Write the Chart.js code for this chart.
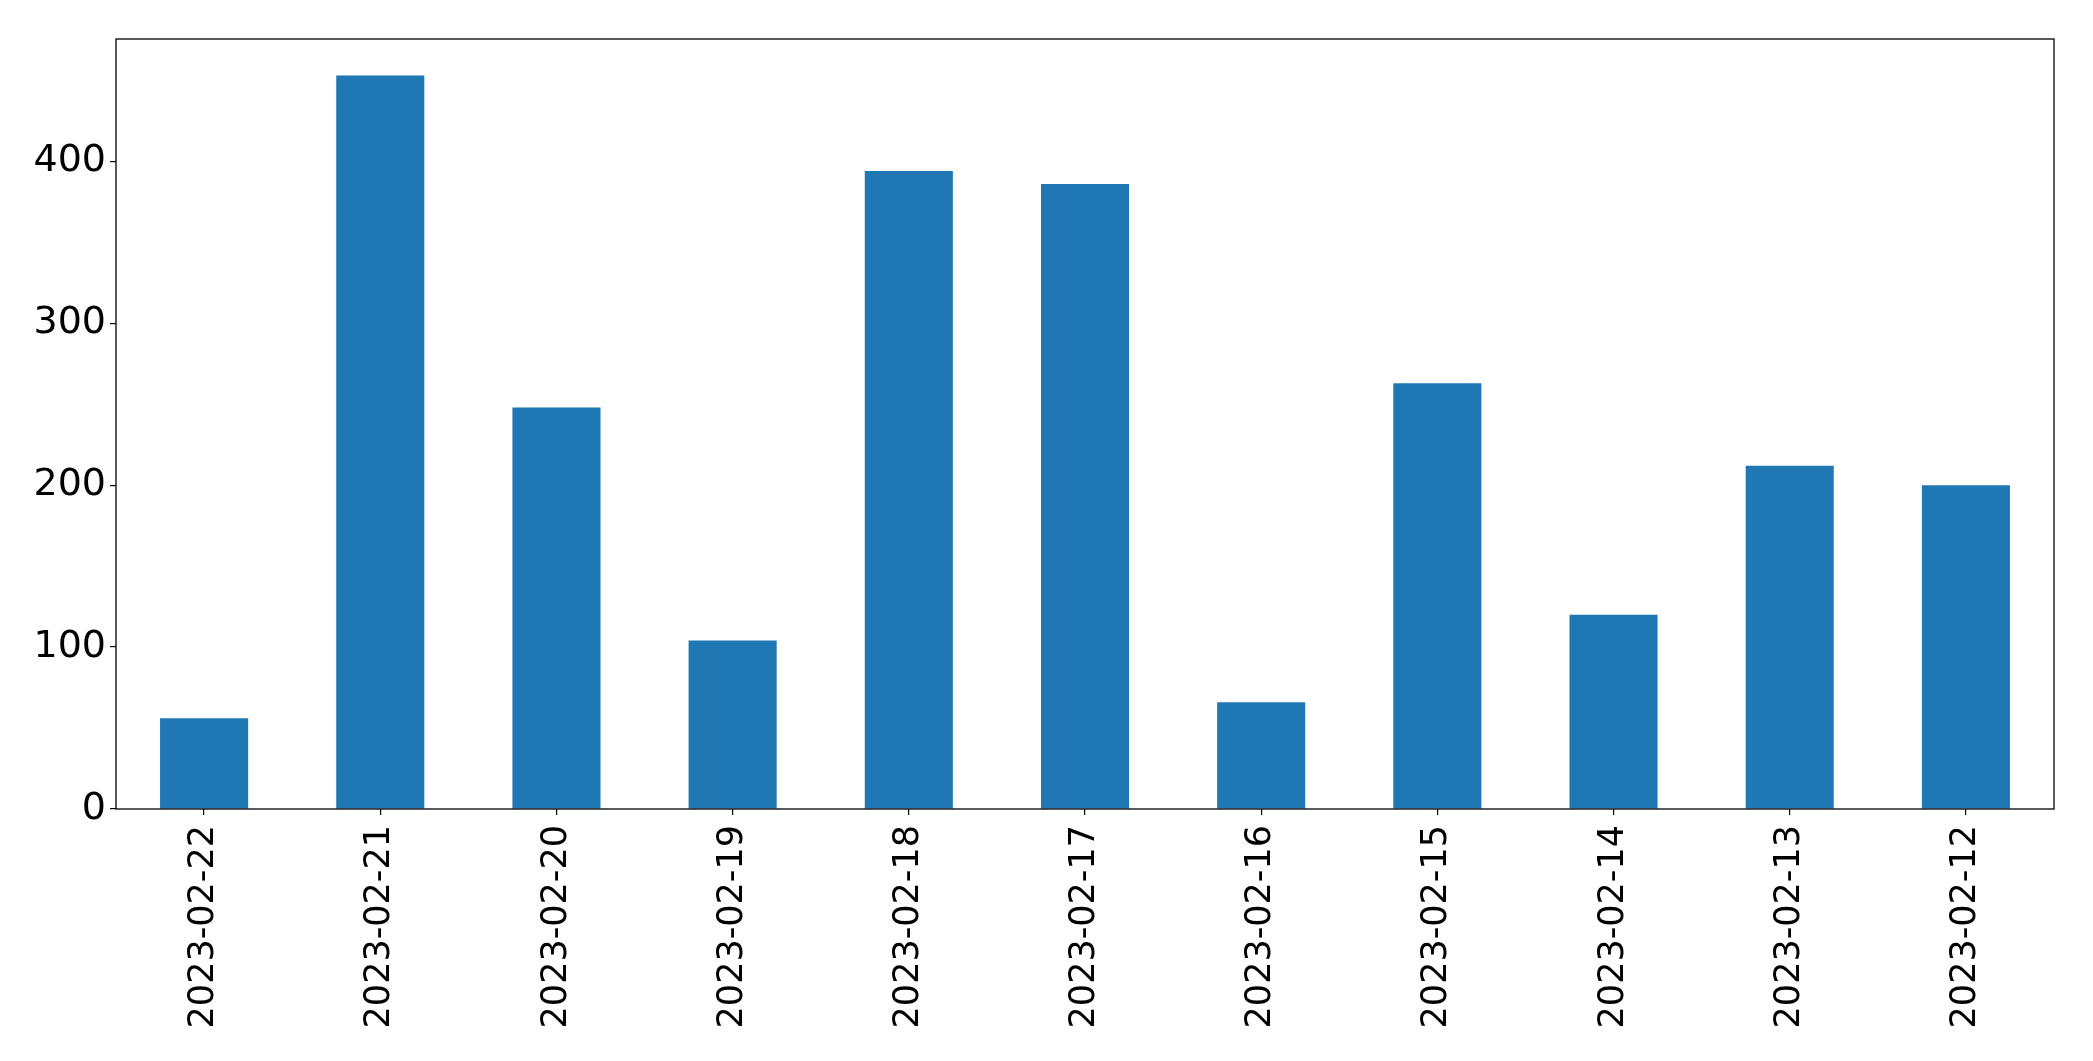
<!DOCTYPE html>
<html>
<head>
<meta charset="utf-8">
<script src="https://cdn.jsdelivr.net/npm/chart.js@4/dist/chart.umd.min.js"></script>
<style>
  html, body { margin: 0; padding: 0; background: #fff; }
  canvas { display: block; }
</style>
</head>
<body>
<canvas id="chart" width="2093" height="1061"></canvas>
<script>
// ── Data ─────────────────────────────────────────────────────────
const dates  = ['2023-02-22', '2023-02-21', '2023-02-20', '2023-02-19', '2023-02-18', '2023-02-17',
                '2023-02-16', '2023-02-15', '2023-02-14', '2023-02-13', '2023-02-12'];
const counts = [56, 453, 248, 104, 394, 386, 66, 263, 120, 212, 200];
const yTicks = [0, 100, 200, 300, 400];

// Bingkai kotak di sekeliling area plot
const framePlugin = {
    id: 'frame',
    afterDraw(chart) {
        const { ctx, chartArea: a } = chart;
        ctx.save();
        ctx.strokeStyle = '#000';
        ctx.lineWidth = 1.3;
        ctx.strokeRect(a.left, a.top, a.right - a.left, a.bottom - a.top);
        ctx.restore();
    }
};

new Chart(document.getElementById('chart'), {
    type: 'bar',
    data: {
        labels: dates,
        datasets: [{
            data: counts,
            backgroundColor: '#1f77b4',
            borderWidth: 0,
            barPercentage: 0.5,
            categoryPercentage: 1.0,
        }]
    },
    options: {
        responsive: false,
        animation: false,
        devicePixelRatio: 1,
        layout: { padding: { top: 39, right: 39, left: 0, bottom: 0 } },
        plugins: { legend: { display: false }, tooltip: { enabled: false } },
        scales: {
            x: {
                offset: true,
                border: { display: false },
                grid: { display: true, offset: false, drawOnChartArea: false, drawTicks: true, tickLength: 6, color: '#000', lineWidth: 1.2 },
                ticks: { color: '#000', font: { family: 'DejaVu Sans', size: 35 }, minRotation: 90, maxRotation: 90, padding: 10, autoSkip: false },
                afterFit: s => { s.height = 252; }
            },
            y: {
                min: 0,
                max: 475.6,
                border: { display: false },
                grid: { display: true, drawOnChartArea: false, drawTicks: true, tickLength: 6, color: '#000', lineWidth: 1.2 },
                ticks: { color: '#000', font: { family: 'DejaVu Sans', size: 38 }, stepSize: 100, padding: 4 },
                afterBuildTicks: s => { s.ticks = yTicks.map(v => ({ value: v })); },
                afterFit: s => { s.width = 116; }
            }
        }
    },
    plugins: [framePlugin]
});
</script>
</body>
</html>
